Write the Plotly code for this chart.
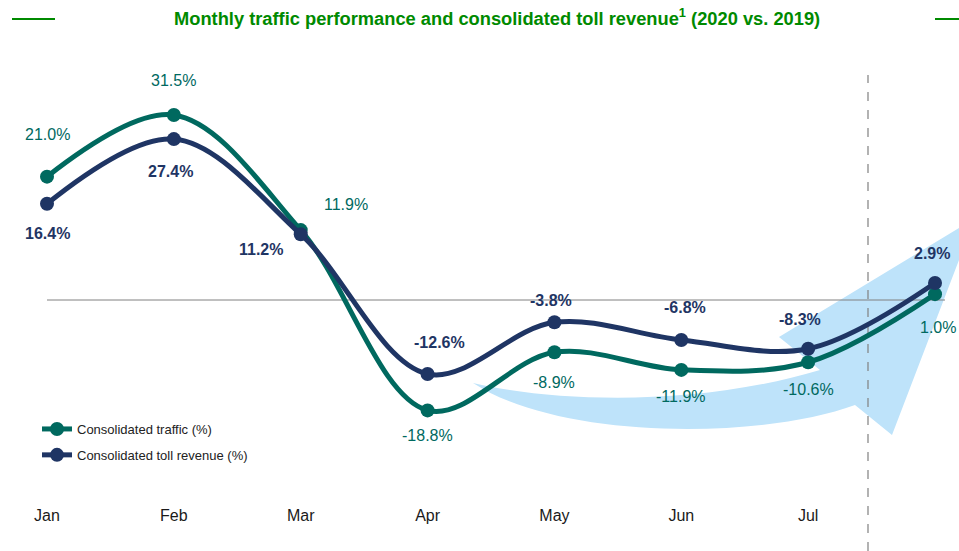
import plotly.graph_objects as go

# ---- data ----
CATEGORIES = ["Jan", "Feb", "Mar", "Apr", "May", "Jun", "Jul", "Aug"]
TICK_LABELS = ["Jan", "Feb", "Mar", "Apr", "May", "Jun", "Jul"]
TRAFFIC = [21.0, 31.5, 11.9, -18.8, -8.9, -11.9, -10.6, 1.0]
TOLL = [16.4, 27.4, 11.2, -12.6, -3.8, -6.8, -8.3, 2.9]
TRAFFIC_NAME = "Consolidated traffic (%)"
TOLL_NAME = "Consolidated toll revenue (%)"
TITLE = "Monthly traffic performance and consolidated toll revenue<sup>1</sup> (2020 vs. 2019)"

# ---- styles ----
W, H = 959, 551
MT, MB = 0, 56
PH = H - MT - MB
TEAL = "#00695F"
NAVY = "#1F3564"
GREEN = "#008A00"
FONT = "Liberation Sans, Arial, sans-serif"

# label offsets (xshift, yshift) in pixels per point
TRAFFIC_OFF = [(0, 42), (0, 35), (45, 26), (0, -25), (0, -30), (0, -27), (0, -27), (3, -33)]
TOLL_OFF = [(0, -30), (-3, -32), (-40, -15), (12, 32), (-3, 22), (4, 32), (-8, 29), (-3, 29)]


def px(x):
    return x / W


def py(y):
    return (PH + MT - y) / PH


fig = go.Figure()
fig.add_trace(go.Scatter(
    x=CATEGORIES, y=TRAFFIC, name=TRAFFIC_NAME, mode="lines+markers",
    line=dict(color=TEAL, width=5, shape="spline", smoothing=1.0),
    marker=dict(color=TEAL, size=14), legendgroup="a"))
fig.add_trace(go.Scatter(
    x=CATEGORIES, y=TOLL, name=TOLL_NAME, mode="lines+markers",
    line=dict(color=NAVY, width=5, shape="spline", smoothing=1.0),
    marker=dict(color=NAVY, size=14), legendgroup="b"))

ann = []
for c, v, (dx, dy) in zip(CATEGORIES, TRAFFIC, TRAFFIC_OFF):
    ann.append(dict(x=c, y=v, xref="x", yref="y", text=f"{v:.1f}%", showarrow=False,
                    xshift=dx, yshift=dy, font=dict(family=FONT, size=16, color=TEAL)))
for c, v, (dx, dy) in zip(CATEGORIES, TOLL, TOLL_OFF):
    ann.append(dict(x=c, y=v, xref="x", yref="y", text=f"<b>{v:.1f}%</b>", showarrow=False,
                    xshift=dx, yshift=dy, font=dict(family=FONT, size=16, color=NAVY)))
ann.append(dict(x=px(497), y=py(17), xref="paper", yref="paper", text=f"<b>{TITLE}</b>",
                xanchor="center", yanchor="middle",
                showarrow=False, font=dict(family=FONT, size=18.3, color=GREEN)))

# decorative curved arrow (pixel outline converted to paper coords)
def P(x, y):
    return f"{px(x):.5f},{py(y):.5f}"

arrow_path = (f"M {P(473,383)} C {P(560,403)} {P(700,406)} {P(820,370)} "
              f"L {P(779,337)} L {P(959,228)} L {P(959,260)} L {P(892,435)} L {P(855,405)} "
              f"C {P(760,440)} {P(560,440)} {P(473,383)} Z")

shapes = [
    dict(type="path", path=arrow_path, xref="paper", yref="paper",
         fillcolor="#BEE3FA", line=dict(width=0), layer="below"),
    dict(type="line", xref="paper", yref="y", x0=px(47), x1=px(945), y0=0, y1=0,
         line=dict(color="#808080", width=1), layer="below"),
    dict(type="line", xref="paper", yref="paper", x0=px(868), x1=px(868), y0=py(551), y1=py(75),
         line=dict(color="#808080", width=1.2, dash="dash"), layer="below"),
    dict(type="line", xref="paper", yref="paper", x0=px(12), x1=px(55), y0=py(19), y1=py(19),
         line=dict(color=GREEN, width=2)),
    dict(type="line", xref="paper", yref="paper", x0=px(935), x1=px(959), y0=py(19), y1=py(19),
         line=dict(color=GREEN, width=2)),
]

fig.update_layout(
    width=W, height=H, margin=dict(l=0, r=0, t=MT, b=MB),
    paper_bgcolor="white", plot_bgcolor="white",
    font=dict(family=FONT, color="#222222"),
    annotations=ann, shapes=shapes,
    xaxis=dict(type="category", range=[-47 / 126.86, (W - 47) / 126.86],
               tickmode="array", tickvals=TICK_LABELS, ticktext=TICK_LABELS,
               showgrid=False, zeroline=False, showline=False,
               ticks="outside", ticklen=6, tickcolor="rgba(0,0,0,0)",
               tickfont=dict(family=FONT, size=16, color="#1a1a1a")),
    yaxis=dict(range=[(300 - PH) / 5.873, 300 / 5.873], visible=False, showgrid=False, zeroline=False),
    legend=dict(x=px(37), y=py(414), xanchor="left", yanchor="top",
                traceorder="grouped", tracegroupgap=6, bgcolor="rgba(0,0,0,0)",
                font=dict(family=FONT, size=13, color="#222222")),
    showlegend=True,
)

fig.write_html("out.html", config={"displayModeBar": False},
               post_script="document.body.style.margin='0';document.body.style.overflow='hidden';")
